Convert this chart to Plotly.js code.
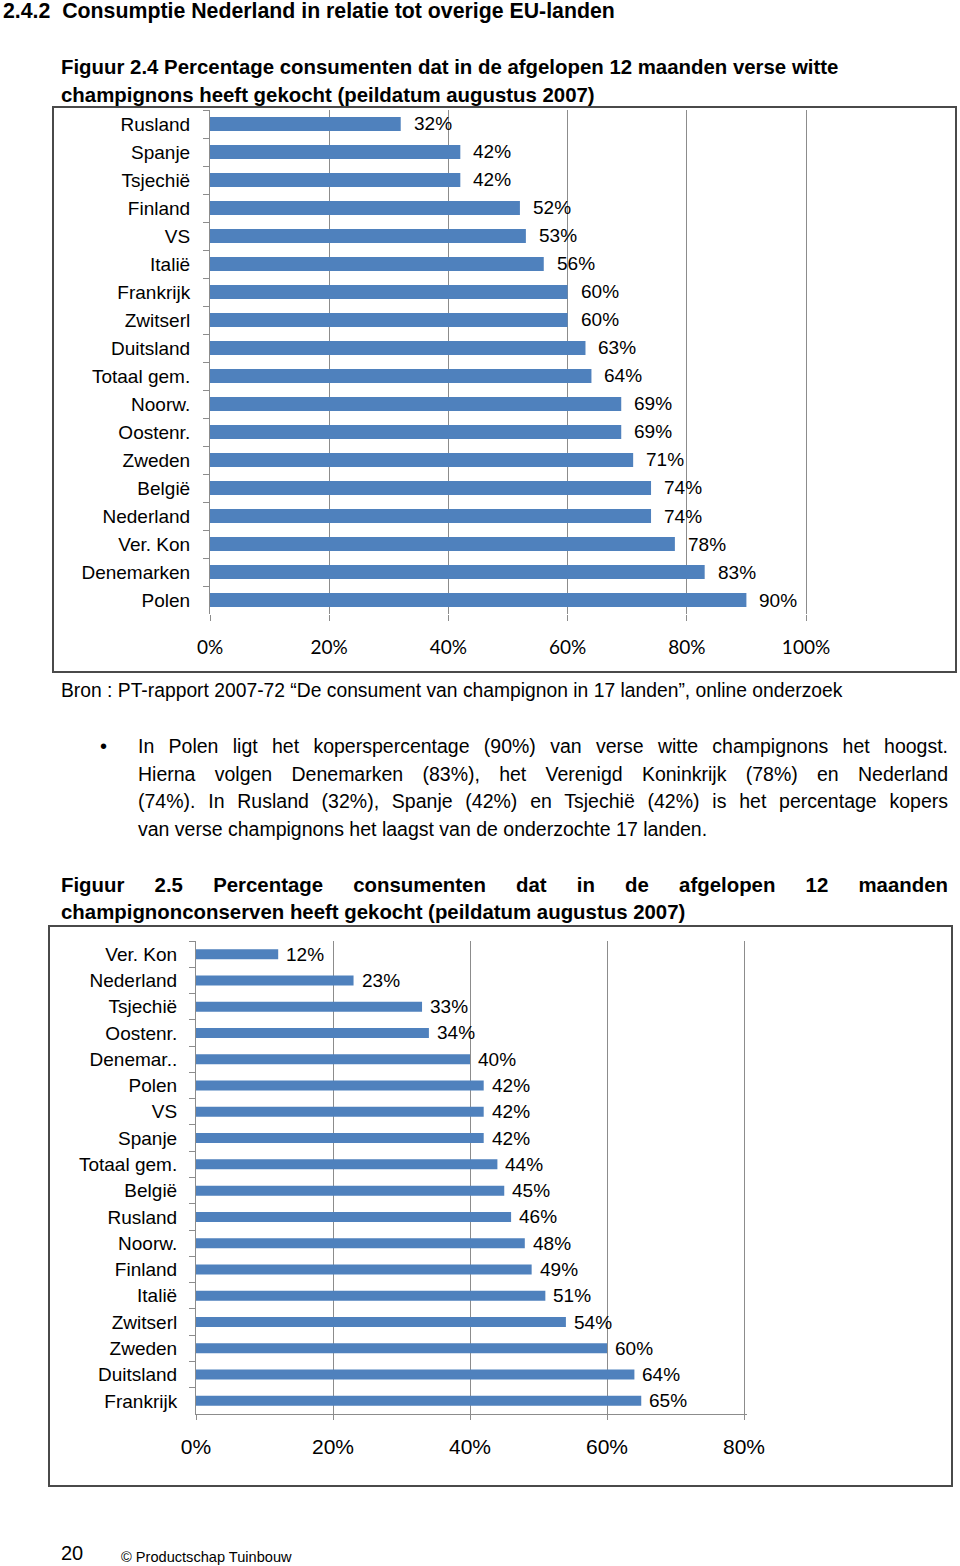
<!DOCTYPE html>
<html>
<head>
<meta charset="utf-8">
<script src="https://cdn.plot.ly/plotly-3.0.1.min.js"></script>
<style>
  html, body { margin:0; padding:0; background:#fff; }
  #page { position:relative; width:960px; height:1566px; overflow:hidden; font-family:"Liberation Sans", Arial, sans-serif; color:#000; }
  #chart { position:absolute; left:0; top:0; width:960px; height:1566px; }
  .t { position:absolute; white-space:nowrap; z-index:5; }
  .b { font-weight:bold; }
  .jl { position:absolute; z-index:5; text-align:justify; text-align-last:justify; white-space:normal; }
</style>
</head>
<body>
<div id="page">
  <div id="chart"></div>
  <div class="t b" style="left:3px; top:-1px; font-size:21.3px; line-height:24px;">2.4.2&nbsp;&nbsp;Consumptie Nederland in relatie tot overige EU-landen</div>

  <div class="t b" style="left:61px; top:55px; font-size:20.4px; line-height:24px;">Figuur 2.4 Percentage consumenten dat in de afgelopen 12 maanden verse witte</div>
  <div class="t b" style="left:61px; top:83px; font-size:20.4px; line-height:24px;">champignons heeft gekocht (peildatum augustus 2007)</div>

  <div class="t" style="left:61px; top:680px; font-size:19.3px; line-height:22px;">Bron : PT-rapport 2007-72 “De consument van champignon in 17 landen”, online onderzoek</div>

  <div class="t" style="left:100px; top:734px; font-size:20px; line-height:24px;">•</div>
  <div class="jl" style="left:138px; top:734px; width:810px; font-size:19.5px; line-height:24px;">In Polen ligt het koperspercentage (90%) van verse witte champignons het hoogst.</div>
  <div class="jl" style="left:138px; top:762px; width:810px; font-size:19.5px; line-height:24px;">Hierna volgen Denemarken (83%), het Verenigd Koninkrijk (78%) en Nederland</div>
  <div class="jl" style="left:138px; top:789px; width:810px; font-size:19.5px; line-height:24px;">(74%). In Rusland (32%), Spanje (42%) en Tsjechië (42%) is het percentage kopers</div>
  <div class="t" style="left:138px; top:817px; font-size:19.5px; line-height:24px;">van verse champignons het laagst van de onderzochte 17 landen.</div>

  <div class="jl b" style="left:61px; top:873px; width:887px; font-size:20.4px; line-height:24px;">Figuur 2.5 Percentage consumenten dat in de afgelopen 12 maanden</div>
  <div class="t b" style="left:61px; top:900px; font-size:20.4px; line-height:24px;">champignonconserven heeft gekocht (peildatum augustus 2007)</div>

  <div class="t" style="left:61px; top:1541px; font-size:20px; line-height:24px;">20</div>
  <div class="t" style="left:121px; top:1548px; font-size:14.6px; line-height:18px;">© Productschap Tuinbouw</div>
</div>
<script>
// ---- Data: Figuur 2.4 (verse witte champignons) ----
const cats1 = ["Rusland","Spanje","Tsjechië","Finland","VS","Italië","Frankrijk","Zwitserl","Duitsland","Totaal gem.","Noorw.","Oostenr.","Zweden","België","Nederland","Ver. Kon","Denemarken","Polen"];
const vals1 = [32,42,42,52,53,56,60,60,63,64,69,69,71,74,74,78,83,90];
const ticks1 = [0,20,40,60,80,100];

// ---- Data: Figuur 2.5 (champignonconserven) ----
const cats2 = ["Ver. Kon","Nederland","Tsjechië","Oostenr.","Denemar..","Polen","VS","Spanje","Totaal gem.","België","Rusland","Noorw.","Finland","Italië","Zwitserl","Zweden","Duitsland","Frankrijk"];
const vals2 = [12,23,33,34,40,42,42,42,44,45,46,48,49,51,54,60,64,65];
const ticks2 = [0,20,40,60,80];

const W = 960, H = 1566;
const px = v => v / W;
const py = v => 1 - v / H;
const BAR = '#4F81BD';
const G = '#8c8c8c';
const F = 'Liberation Sans, Arial, sans-serif';

// axis 1: 0 -> 210px, 100 -> 806px ; axis 2: 0 -> 196px, 80 -> 744px
const max1 = ticks1[ticks1.length-1], max2 = ticks2[ticks2.length-1];
const s1 = (806-210)/max1, s2 = (744-196)/max2;
const r1 = max1*1.005, r2 = max2*1.005;

const traces = [
  { type:'bar', orientation:'h', x: vals1, y: cats1, xaxis:'x', yaxis:'y',
    marker:{color:BAR}, width:0.5, hoverinfo:'skip' },
  { type:'bar', orientation:'h', x: vals2, y: cats2, xaxis:'x2', yaxis:'y2',
    marker:{color:BAR}, width:0.38, hoverinfo:'skip' }
];

const annotations = [];
vals1.forEach((v,i) => annotations.push({
  xref:'x', yref:'y', x:v, y:cats1[i], text:v+'%', showarrow:false,
  xanchor:'left', yanchor:'middle', xshift:11, font:{family:F, size:19, color:'#000'}
}));
vals2.forEach((v,i) => annotations.push({
  xref:'x2', yref:'y2', x:v, y:cats2[i], text:v+'%', showarrow:false,
  xanchor:'left', yanchor:'middle', xshift:6, font:{family:F, size:19, color:'#000'}
}));

const layout = {
  width:W, height:H, margin:{l:0,r:0,t:0,b:0},
  paper_bgcolor:'rgba(0,0,0,0)', plot_bgcolor:'rgba(0,0,0,0)', showlegend:false,
  xaxis:{ domain:[px(210), px(210 + s1*r1)], range:[0,r1], anchor:'y',
    tickvals:ticks1, ticktext:ticks1.map(v=>v+'%'),
    showgrid:true, gridcolor:G, gridwidth:1, zeroline:false, showline:false,
    ticks:'outside', ticklen:6, tickcolor:G, ticklabelstandoff:10,
    tickfont:{family:'Lato, '+F, size:19, color:'#000'}, fixedrange:true },
  yaxis:{ domain:[py(614), py(110)], type:'category', autorange:'reversed', anchor:'x',
    showline:true, linecolor:G, linewidth:1, showgrid:false, zeroline:false,
    ticks:'outside', ticklen:6, tickcolor:G, tickson:'boundaries', ticklabelstandoff:15,
    tickfont:{family:F, size:19, color:'#000'}, fixedrange:true },
  xaxis2:{ domain:[px(196), px(196 + s2*r2)], range:[0,r2], anchor:'y2',
    tickvals:ticks2, ticktext:ticks2.map(v=>v+'%'),
    showgrid:true, gridcolor:G, gridwidth:1, zeroline:false, showline:true, linecolor:G, linewidth:1,
    ticks:'outside', ticklen:5, tickcolor:G, ticklabelstandoff:9,
    tickfont:{family:F, size:21, color:'#000'}, fixedrange:true },
  yaxis2:{ domain:[py(1414), py(941)], type:'category', autorange:'reversed', anchor:'x2',
    showline:true, linecolor:G, linewidth:1, showgrid:false, zeroline:false,
    ticks:'outside', ticklen:6, tickcolor:G, tickson:'boundaries', ticklabelstandoff:14,
    tickfont:{family:F, size:19, color:'#000'}, fixedrange:true },
  shapes:[
    { type:'rect', xref:'paper', yref:'paper', x0:px(53), x1:px(956), y0:py(672), y1:py(107),
      line:{color:'#4a4a4a', width:2}, fillcolor:'rgba(0,0,0,0)', layer:'below' },
    { type:'rect', xref:'paper', yref:'paper', x0:px(49), x1:px(952), y0:py(1486), y1:py(926),
      line:{color:'#4a4a4a', width:2}, fillcolor:'rgba(0,0,0,0)', layer:'below' }
  ],
  annotations: annotations
};

Plotly.newPlot('chart', traces, layout, {staticPlot:true, displayModeBar:false});
</script>
</body>
</html>
